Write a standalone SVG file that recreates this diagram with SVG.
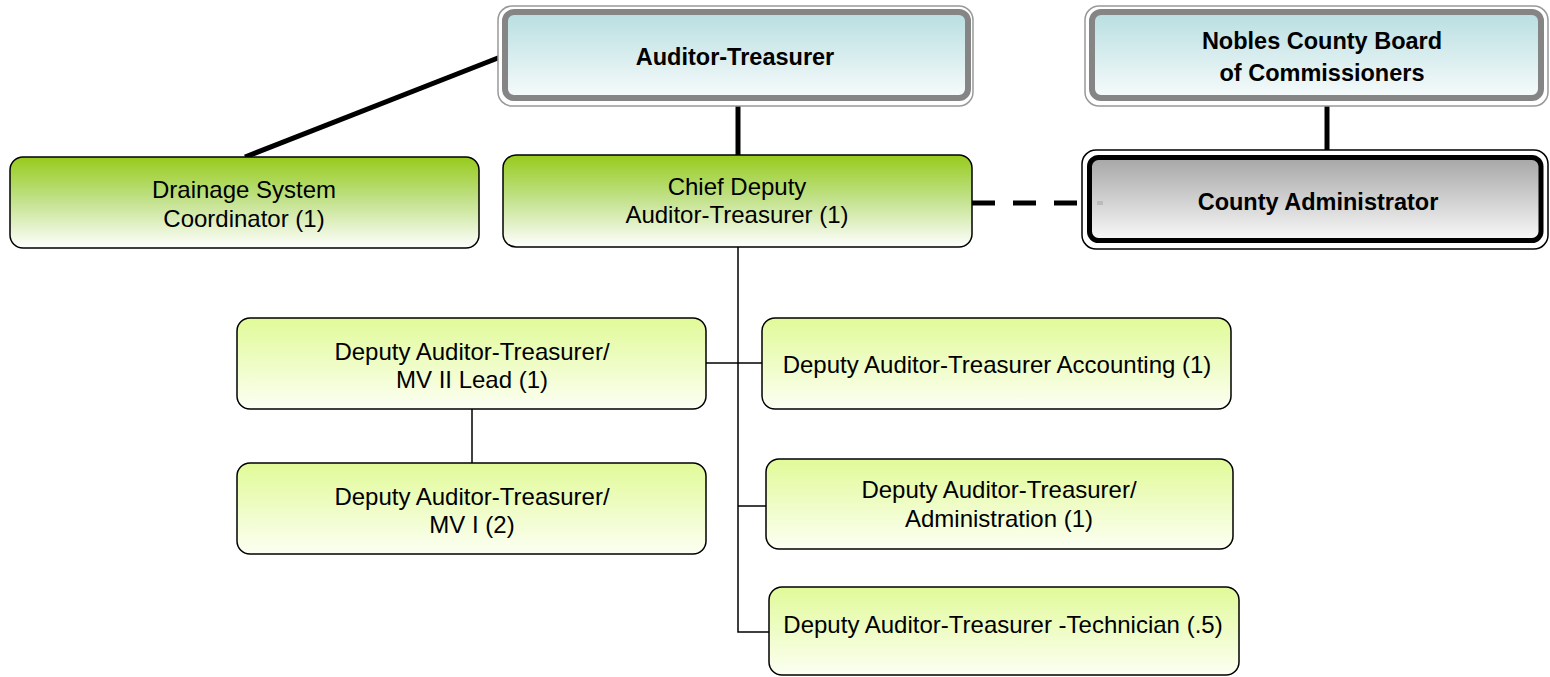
<svg xmlns="http://www.w3.org/2000/svg" width="1550" height="677" viewBox="0 0 1550 677">
<defs>
<linearGradient id="gTeal" x1="0" y1="0" x2="0" y2="1">
<stop offset="0" stop-color="#b8dee1"/><stop offset="1" stop-color="#f7fbfb"/>
</linearGradient>
<linearGradient id="gGrey" x1="0" y1="0" x2="0" y2="1">
<stop offset="0" stop-color="#a6a6a6"/><stop offset="1" stop-color="#f9f9f9"/>
</linearGradient>
<linearGradient id="gGreen" x1="0" y1="0" x2="0" y2="1">
<stop offset="0" stop-color="#97cb1c"/><stop offset="0.45" stop-color="#bfe084"/><stop offset="1" stop-color="#ffffff"/>
</linearGradient>
<linearGradient id="gLight" x1="0" y1="0" x2="0" y2="1">
<stop offset="0" stop-color="#e1fa98"/><stop offset="1" stop-color="#fcfff3"/>
</linearGradient>
</defs>
<style>
text{font-family:"Liberation Sans",Arial,sans-serif;fill:#000;text-anchor:middle}
.b{font-weight:bold;font-size:23.5px}
.r{font-size:24px}
.outer{fill:#fff;stroke:#999;stroke-width:1.5}
.frame{fill:url(#gTeal);stroke:#858585;stroke-width:6}
.green{fill:url(#gGreen);stroke:#000;stroke-width:1.5}
.light{fill:url(#gLight);stroke:#000;stroke-width:1.5}
.thick{stroke:#000;stroke-width:5;fill:none}
.thin{stroke:#000;stroke-width:1.5;fill:none}
</style>
<g id="connectors">
<line class="thick" x1="503" y1="56" x2="245" y2="157"/>
<line class="thick" x1="738" y1="106" x2="738" y2="155"/>
<line class="thick" x1="1327" y1="106" x2="1327" y2="155"/>
<line class="thick" x1="972" y1="203" x2="1082" y2="203" stroke-dasharray="23 18"/>
<polyline class="thin" points="738,247 738,632 769,632"/>
<line class="thin" x1="706" y1="363" x2="762" y2="363"/>
<line class="thin" x1="738" y1="506" x2="766" y2="506"/>
<line class="thin" x1="472" y1="409" x2="472" y2="463"/>
</g>
<g id="auditor-treasurer">
<rect class="outer" x="498" y="6" width="475" height="100" rx="14"/>
<rect class="frame" x="505" y="12" width="463" height="86" rx="9"/>
<text class="b" x="735" y="65">Auditor-Treasurer</text>
</g>
<g id="board">
<rect class="outer" x="1085" y="6" width="463" height="100" rx="14"/>
<rect class="frame" x="1092" y="12" width="449" height="86" rx="9"/>
<text class="b" x="1322" y="49">Nobles County Board</text>
<text class="b" x="1322" y="81">of Commissioners</text>
</g>
<g id="county-administrator">
<rect x="1082" y="150" width="466" height="99" rx="14" fill="#fff" stroke="#000" stroke-width="1.5"/>
<rect x="1089.5" y="157.5" width="451.5" height="83" rx="9" fill="url(#gGrey)" stroke="#000" stroke-width="5"/>
<rect x="1097" y="201" width="6" height="4" fill="#bbb"/>
<text class="b" x="1318" y="210">County Administrator</text>
</g>
<g id="drainage">
<rect class="green" x="10" y="157" width="469" height="91" rx="13"/>
<text class="r" x="244" y="198">Drainage System</text>
<text class="r" x="244" y="227">Coordinator (1)</text>
</g>
<g id="chief-deputy">
<rect class="green" x="503" y="155" width="469" height="92" rx="13"/>
<text class="r" x="737" y="195">Chief Deputy</text>
<text class="r" x="737" y="223">Auditor-Treasurer (1)</text>
</g>
<g id="mv2-lead">
<rect class="light" x="237" y="318" width="469" height="91" rx="13"/>
<text class="r" x="472" y="360">Deputy Auditor-Treasurer/</text>
<text class="r" x="472" y="388">MV II Lead (1)</text>
</g>
<g id="mv1">
<rect class="light" x="237" y="463" width="469" height="91" rx="13"/>
<text class="r" x="472" y="505">Deputy Auditor-Treasurer/</text>
<text class="r" x="472" y="533">MV I (2)</text>
</g>
<g id="accounting">
<rect class="light" x="762" y="318" width="469" height="91" rx="13"/>
<text class="r" x="997" y="373">Deputy Auditor-Treasurer Accounting (1)</text>
</g>
<g id="administration">
<rect class="light" x="766" y="459" width="467" height="90" rx="13"/>
<text class="r" x="999" y="498">Deputy Auditor-Treasurer/</text>
<text class="r" x="999" y="527">Administration (1)</text>
</g>
<g id="technician">
<rect class="light" x="769" y="587" width="470" height="88" rx="13"/>
<text class="r" x="1003" y="633">Deputy Auditor-Treasurer -Technician (.5)</text>
</g>
</svg>
